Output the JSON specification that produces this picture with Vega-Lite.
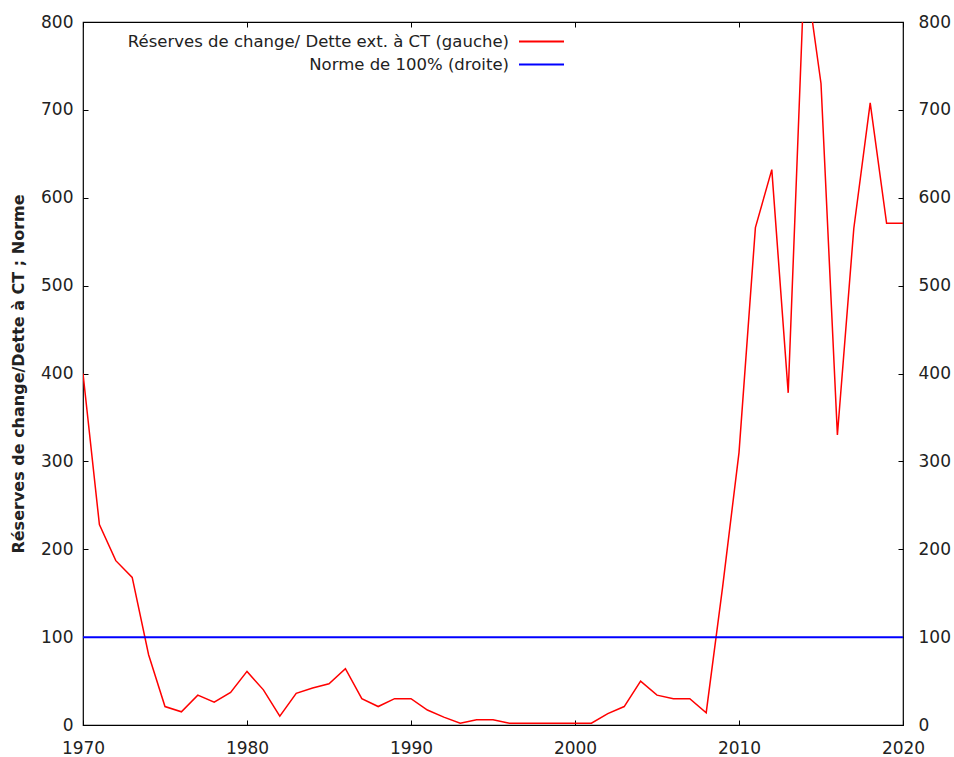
{
  "$schema": "https://vega.github.io/schema/vega-lite/v6.json",
  "width": 820,
  "height": 703,
  "autosize": {"type": "none"},
  "padding": {"left": 83, "top": 22, "right": 51, "bottom": 32},
  "background": "white",
  "config": {
    "view": {"stroke": "#000", "strokeWidth": 1.2},
    "axis": {
      "domain": false,
      "grid": false,
      "tickColor": "#000",
      "tickSize": 5,
      "offset": -5,
      "labelFont": "DejaVu Sans",
      "labelFontSize": 17,
      "labelColor": "#222",
      "labelFlush": false
    },
    "legend": {
      "orient": "none",
      "legendX": 450,
      "legendY": 11,
      "padding": 0,
      "symbolType": "M-3,0H3",
      "symbolSize": 225,
      "symbolStrokeWidth": 1.8,
      "labelAlign": "right",
      "labelOffset": -41,
      "labelLimit": 0,
      "labelFont": "DejaVu Sans",
      "labelFontSize": 16.5,
      "labelColor": "#222",
      "rowPadding": 6,
      "title": null
    }
  },
  "datasets": {
    "ratio": [
      {"year": 1970, "value": 400, "series": "Réserves de change/ Dette ext. à CT  (gauche)"},
      {"year": 1971, "value": 228, "series": "Réserves de change/ Dette ext. à CT  (gauche)"},
      {"year": 1972, "value": 187, "series": "Réserves de change/ Dette ext. à CT  (gauche)"},
      {"year": 1973, "value": 168, "series": "Réserves de change/ Dette ext. à CT  (gauche)"},
      {"year": 1974, "value": 80, "series": "Réserves de change/ Dette ext. à CT  (gauche)"},
      {"year": 1975, "value": 21, "series": "Réserves de change/ Dette ext. à CT  (gauche)"},
      {"year": 1976, "value": 15, "series": "Réserves de change/ Dette ext. à CT  (gauche)"},
      {"year": 1977, "value": 34, "series": "Réserves de change/ Dette ext. à CT  (gauche)"},
      {"year": 1978, "value": 26, "series": "Réserves de change/ Dette ext. à CT  (gauche)"},
      {"year": 1979, "value": 37, "series": "Réserves de change/ Dette ext. à CT  (gauche)"},
      {"year": 1980, "value": 61, "series": "Réserves de change/ Dette ext. à CT  (gauche)"},
      {"year": 1981, "value": 40, "series": "Réserves de change/ Dette ext. à CT  (gauche)"},
      {"year": 1982, "value": 10, "series": "Réserves de change/ Dette ext. à CT  (gauche)"},
      {"year": 1983, "value": 36, "series": "Réserves de change/ Dette ext. à CT  (gauche)"},
      {"year": 1984, "value": 42, "series": "Réserves de change/ Dette ext. à CT  (gauche)"},
      {"year": 1985, "value": 47, "series": "Réserves de change/ Dette ext. à CT  (gauche)"},
      {"year": 1986, "value": 64, "series": "Réserves de change/ Dette ext. à CT  (gauche)"},
      {"year": 1987, "value": 30, "series": "Réserves de change/ Dette ext. à CT  (gauche)"},
      {"year": 1988, "value": 21, "series": "Réserves de change/ Dette ext. à CT  (gauche)"},
      {"year": 1989, "value": 30, "series": "Réserves de change/ Dette ext. à CT  (gauche)"},
      {"year": 1990, "value": 30, "series": "Réserves de change/ Dette ext. à CT  (gauche)"},
      {"year": 1991, "value": 17, "series": "Réserves de change/ Dette ext. à CT  (gauche)"},
      {"year": 1992, "value": 9, "series": "Réserves de change/ Dette ext. à CT  (gauche)"},
      {"year": 1993, "value": 2, "series": "Réserves de change/ Dette ext. à CT  (gauche)"},
      {"year": 1994, "value": 6, "series": "Réserves de change/ Dette ext. à CT  (gauche)"},
      {"year": 1995, "value": 6, "series": "Réserves de change/ Dette ext. à CT  (gauche)"},
      {"year": 1996, "value": 2, "series": "Réserves de change/ Dette ext. à CT  (gauche)"},
      {"year": 1997, "value": 2, "series": "Réserves de change/ Dette ext. à CT  (gauche)"},
      {"year": 1998, "value": 2, "series": "Réserves de change/ Dette ext. à CT  (gauche)"},
      {"year": 1999, "value": 2, "series": "Réserves de change/ Dette ext. à CT  (gauche)"},
      {"year": 2000, "value": 2, "series": "Réserves de change/ Dette ext. à CT  (gauche)"},
      {"year": 2001, "value": 2, "series": "Réserves de change/ Dette ext. à CT  (gauche)"},
      {"year": 2002, "value": 13, "series": "Réserves de change/ Dette ext. à CT  (gauche)"},
      {"year": 2003, "value": 21, "series": "Réserves de change/ Dette ext. à CT  (gauche)"},
      {"year": 2004, "value": 50, "series": "Réserves de change/ Dette ext. à CT  (gauche)"},
      {"year": 2005, "value": 34, "series": "Réserves de change/ Dette ext. à CT  (gauche)"},
      {"year": 2006, "value": 30, "series": "Réserves de change/ Dette ext. à CT  (gauche)"},
      {"year": 2007, "value": 30, "series": "Réserves de change/ Dette ext. à CT  (gauche)"},
      {"year": 2008, "value": 14, "series": "Réserves de change/ Dette ext. à CT  (gauche)"},
      {"year": 2009, "value": 157, "series": "Réserves de change/ Dette ext. à CT  (gauche)"},
      {"year": 2010, "value": 310, "series": "Réserves de change/ Dette ext. à CT  (gauche)"},
      {"year": 2011, "value": 566, "series": "Réserves de change/ Dette ext. à CT  (gauche)"},
      {"year": 2012, "value": 632, "series": "Réserves de change/ Dette ext. à CT  (gauche)"},
      {"year": 2013, "value": 378, "series": "Réserves de change/ Dette ext. à CT  (gauche)"},
      {"year": 2014, "value": 865, "series": "Réserves de change/ Dette ext. à CT  (gauche)"},
      {"year": 2015, "value": 730, "series": "Réserves de change/ Dette ext. à CT  (gauche)"},
      {"year": 2016, "value": 330, "series": "Réserves de change/ Dette ext. à CT  (gauche)"},
      {"year": 2017, "value": 565, "series": "Réserves de change/ Dette ext. à CT  (gauche)"},
      {"year": 2018, "value": 708, "series": "Réserves de change/ Dette ext. à CT  (gauche)"},
      {"year": 2019, "value": 571, "series": "Réserves de change/ Dette ext. à CT  (gauche)"},
      {"year": 2020, "value": 571, "series": "Réserves de change/ Dette ext. à CT  (gauche)"}
    ],
    "norm": [
      {"year": 1970, "value": 100, "series": "Norme de 100% (droite)"},
      {"year": 2020, "value": 100, "series": "Norme de 100% (droite)"}
    ]
  },
  "layer": [
    {
      "data": {"name": "ratio"},
      "mark": {"type": "line", "clip": true, "strokeWidth": 1.5},
      "encoding": {
        "x": {
          "field": "year", "type": "quantitative",
          "scale": {"domain": [1970, 2020], "nice": false, "zero": false},
          "axis": {"orient": "bottom", "values": [1970, 1980, 1990, 2000, 2010, 2020], "format": "d", "title": null, "labelPadding": 15}
        },
        "y": {
          "field": "value", "type": "quantitative",
          "scale": {"domain": [0, 800], "nice": false},
          "axis": {
            "orient": "left",
            "values": [0, 100, 200, 300, 400, 500, 600, 700, 800],
            "title": "Réserves de change/Dette à CT ; Norme",
            "titleFont": "DejaVu Sans",
            "titleFontSize": 16,
            "titleFontWeight": "bold",
            "titleColor": "#222",
            "titlePadding": 14,
            "labelPadding": 10
          }
        },
        "color": {
          "field": "series", "type": "nominal",
          "scale": {
            "domain": ["Réserves de change/ Dette ext. à CT  (gauche)", "Norme de 100% (droite)"],
            "range": ["#ff0000", "#0000ff"]
          }
        }
      }
    },
    {
      "data": {"name": "norm"},
      "mark": {"type": "line", "clip": true, "strokeWidth": 2},
      "encoding": {
        "x": {
          "field": "year", "type": "quantitative",
          "scale": {"domain": [1970, 2020], "nice": false, "zero": false},
          "axis": {"orient": "top", "values": [1970, 1980, 1990, 2000, 2010, 2020], "labels": false, "title": null}
        },
        "y": {
          "field": "value", "type": "quantitative",
          "scale": {"domain": [0, 800], "nice": false},
          "axis": {"orient": "right", "values": [0, 100, 200, 300, 400, 500, 600, 700, 800], "title": null, "labelPadding": 15}
        },
        "color": {
          "field": "series", "type": "nominal",
          "scale": {
            "domain": ["Réserves de change/ Dette ext. à CT  (gauche)", "Norme de 100% (droite)"],
            "range": ["#ff0000", "#0000ff"]
          }
        }
      }
    }
  ],
  "resolve": {"scale": {"x": "independent", "y": "independent"}}
}
